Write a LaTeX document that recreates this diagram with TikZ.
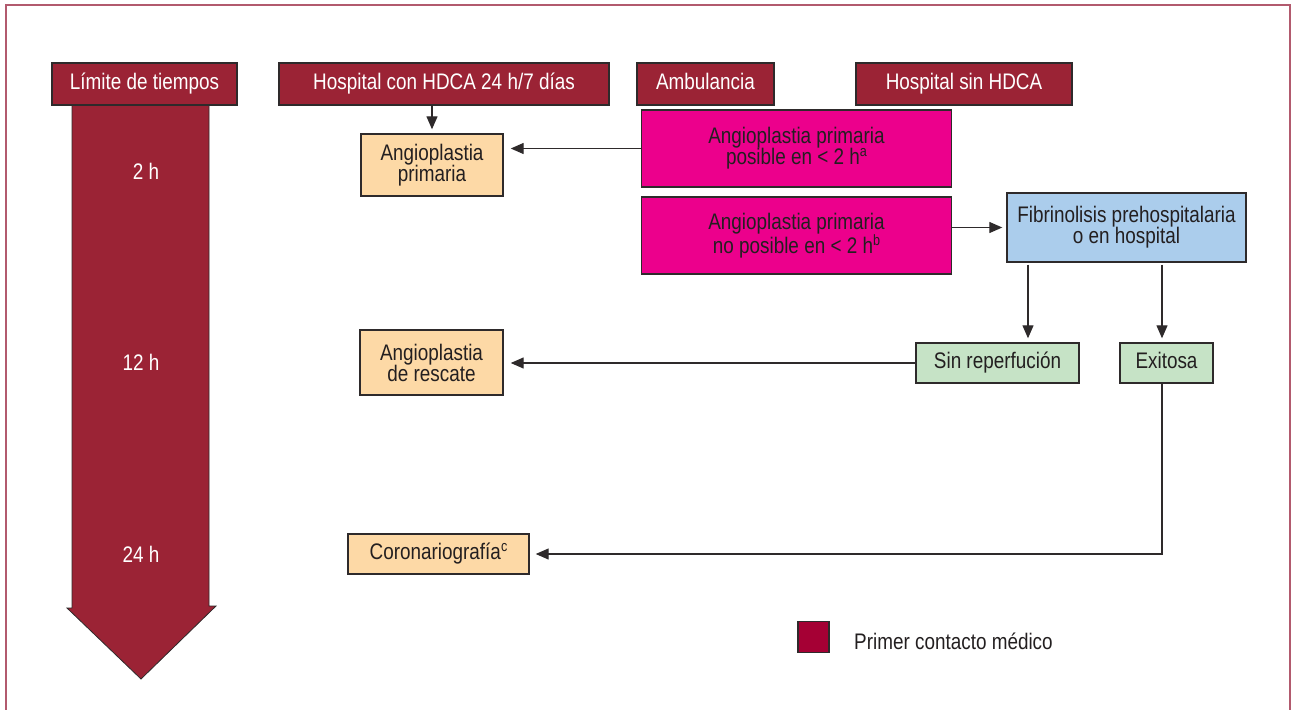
\documentclass[tikz,border=0pt]{standalone}
\usepackage{fontspec}
\setmainfont{Liberation Sans}[FakeStretch=0.84]
\usetikzlibrary{arrows.meta}
\definecolor{hdr}{HTML}{9B2335}
\definecolor{bord}{HTML}{2E2A2B}
\definecolor{txt}{HTML}{231F20}
\definecolor{pinkf}{HTML}{EC008C}
\definecolor{orangef}{HTML}{FDD9A6}
\definecolor{bluef}{HTML}{ABCDEC}
\definecolor{greenf}{HTML}{C6E3C6}
\definecolor{legf}{HTML}{A50034}
\definecolor{framec}{HTML}{B25A6E}
\newcommand{\supx}[1]{\raisebox{0.36em}{\fontsize{15}{15}\selectfont #1}}
\begin{document}
\begin{tikzpicture}[x=1pt,y=-1pt,
  font=\fontsize{22.5}{21}\selectfont,
  box/.style={draw=bord, line width=1.4pt, inner sep=0pt, align=center, text=txt},
  one/.style={text height=15.5pt, text depth=5pt},
  hdrbox/.style={box, one, fill=hdr, text=white, minimum height=42pt},
  arr/.style={draw=bord, line width=1.3pt, -{Triangle[length=13pt,width=11pt]}},
  tlabel/.style={text=white, inner sep=0pt}]
\useasboundingbox (0,0) rectangle (1292,709);
% frame
\draw[framec, line width=1.8pt] (6,715) -- (6,5) -- (1290,5) -- (1290,715);
% time arrow
\filldraw[fill=hdr, draw=bord, line width=0.8pt] (72,100) -- (72,608) -- (67,608) -- (141,679) -- (216,606) -- (209,606) -- (209,100);
\node[tlabel] (t2) at (146,171) {2 h};
\node[tlabel] (t12) at (141,362) {12 h};
\node[tlabel] (t24) at (141,554) {24 h};
% headers
\node[hdrbox, minimum width=185pt] (lim) at (144.5,84) {Límite de tiempos};
\node[hdrbox, minimum width=330pt] (hcon) at (444,84) {Hospital con HDCA 24 h/7 días};
\node[hdrbox, minimum width=137pt] (amb) at (705.5,84) {Ambulancia};
\node[hdrbox, minimum width=216pt] (hsin) at (964,84) {Hospital sin HDCA};
% boxes
\node[box, fill=orangef, minimum width=142pt, minimum height=62pt] (ap) at (432,165) {Angioplastia\\primaria};
\node[box, fill=pinkf, minimum width=310pt, minimum height=77pt] (pk1) at (796.5,148.5) {Angioplastia primaria\\posible en < 2 h\supx{a}};
\node[box, fill=pinkf, minimum width=310pt, minimum height=77pt] (pk2) at (796.5,235.5) {Angioplastia primaria\\no posible en < 2 h\supx{b}};
\node[box, fill=bluef, minimum width=239pt, minimum height=69pt] (fib) at (1126.5,227.5) {Fibrinolisis prehospitalaria\\o en hospital};
\node[box, one, fill=greenf, minimum width=163pt, minimum height=40pt] (sr) at (997.5,363) {Sin reperfución};
\node[box, one, fill=greenf, minimum width=93pt, minimum height=40pt] (ex) at (1166.5,363) {Exitosa};
\node[box, fill=orangef, minimum width=143pt, minimum height=65pt] (ar) at (431.5,362.5) {Angioplastia\\de rescate};
\node[box, one, fill=orangef, minimum width=181pt, minimum height=40pt] (cor) at (438.5,554) {Coronariografía\supx{c}};
% legend
\node[draw=bord, line width=1.4pt, fill=legf, minimum size=31pt, inner sep=0pt] (leg) at (813.5,637) {};
\node[anchor=west, text=txt, inner sep=0pt] (legt) at (854,641) {Primer contacto médico};
% connectors
\coordinate (c1) at (1028,0);
\coordinate (c2) at (1162,0);
\draw[arr, shorten >=4pt] (hcon.south -| ap.north) -- (ap.north);
\draw[arr, shorten >=7pt] (pk1.west) -- (pk1.west -| ap.east);
\draw[arr, shorten >=4pt] (pk2.east |- fib.west) -- (fib.west);
\draw[arr, shorten <=2pt, shorten >=4pt] (fib.south -| c1) -- (sr.north -| c1);
\draw[arr, shorten <=2pt, shorten >=4pt] (fib.south -| c2) -- (ex.north -| c2);
\draw[arr, shorten >=7pt] (sr.west) -- (sr.west -| ar.east);
\draw[arr, shorten >=6pt] (ex.south -| c2) |- (cor.east);
\end{tikzpicture}
\end{document}
